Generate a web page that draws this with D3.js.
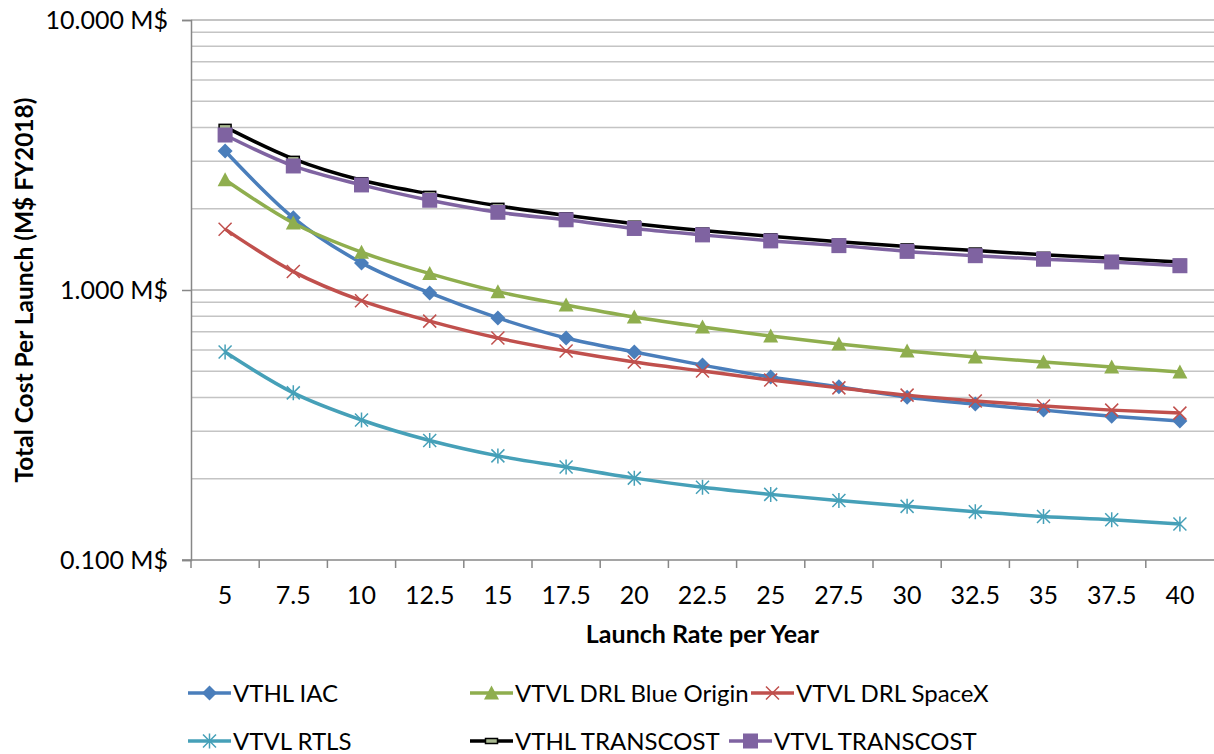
<!DOCTYPE html>
<html>
<head>
<meta charset="utf-8">
<script src="https://cdn.jsdelivr.net/npm/d3@7"></script>
<style>
  body { margin: 0; background: #fff; }
  svg text { font-family: Lato, "Open Sans", sans-serif; fill: #000; }
</style>
</head>
<body>
<div id="chart"></div>
<script>
// launch rates (categories)
const rates = ['5', '7.5', '10', '12.5', '15', '17.5', '20', '22.5', '25', '27.5', '30', '32.5', '35', '37.5', '40'];

// cost per launch, M$ FY2018
const vthlIac = [3.27, 1.85, 1.26, 0.975, 0.788, 0.664, 0.589, 0.527, 0.476, 0.438, 0.401, 0.378, 0.359, 0.341, 0.327];
const vtvlBlueOrigin = [2.56, 1.77, 1.38, 1.15, 0.986, 0.88, 0.794, 0.729, 0.675, 0.631, 0.594, 0.565, 0.541, 0.519, 0.497];
const vtvlSpaceX = [1.68, 1.17, 0.913, 0.767, 0.664, 0.594, 0.541, 0.501, 0.464, 0.434, 0.408, 0.388, 0.372, 0.359, 0.350];
const vtvlRtls = [0.589, 0.416, 0.330, 0.277, 0.243, 0.221, 0.201, 0.186, 0.175, 0.166, 0.158, 0.151, 0.145, 0.141, 0.136];
const vthlTranscost = [4.02, 3.06, 2.55, 2.27, 2.05, 1.89, 1.76, 1.66, 1.58, 1.51, 1.45, 1.40, 1.35, 1.31, 1.27];
const vtvlTranscost = [3.75, 2.88, 2.45, 2.15, 1.94, 1.82, 1.69, 1.60, 1.52, 1.46, 1.39, 1.34, 1.30, 1.27, 1.23];

const yTicks = [0.1, 1, 10];
const yTickLabels = ['0.100 M$', '1.000 M$', '10.000 M$'];

const series = [
  { name: 'VTHL IAC', values: vthlIac, color: '#4A7EBB', marker: 'diamond' },
  { name: 'VTVL DRL Blue Origin', values: vtvlBlueOrigin, color: '#8FAE4E', marker: 'triangle' },
  { name: 'VTVL DRL SpaceX', values: vtvlSpaceX, color: '#C0504D', marker: 'x' },
  { name: 'VTVL RTLS', values: vtvlRtls, color: '#46A0B8', marker: 'star' },
  { name: 'VTHL TRANSCOST', values: vthlTranscost, color: '#000000', marker: 'dash' },
  { name: 'VTVL TRANSCOST', values: vtvlTranscost, color: '#7F63A1', marker: 'square' }
];

// set the dimensions and margins of the graph
const width = 1214, height = 754;
const margin = { top: 20, right: 0, bottom: 194, left: 191 };

const svg = d3.select('#chart')
  .append('svg')
  .attr('width', width)
  .attr('height', height);

const x = d3.scaleBand()
  .domain(rates)
  .range([margin.left, width - margin.right]);

const y = d3.scaleLog()
  .domain([0.1, 10])
  .range([height - margin.bottom, margin.top]);

const cx = r => x(r) + x.bandwidth() / 2;

// gridlines: minor first, then decades
const minor = [];
[0.1, 1].forEach(d => { for (let k = 2; k <= 9; k++) minor.push(d * k); });
svg.append('g')
  .selectAll('line')
  .data(minor)
  .enter()
  .append('line')
  .attr('x1', margin.left).attr('x2', width)
  .attr('y1', d => y(d)).attr('y2', d => y(d))
  .style('stroke', '#c4c4c4')
  .style('stroke-width', 1.5);

svg.append('g')
  .selectAll('line')
  .data([1, 10])
  .enter()
  .append('line')
  .attr('x1', margin.left).attr('x2', width)
  .attr('y1', d => y(d)).attr('y2', d => y(d))
  .style('stroke', '#b0b0b0')
  .style('stroke-width', 1.5);

// Y axis
const yAxis = svg.append('g')
  .attr('transform', 'translate(' + margin.left + ',0)')
  .call(d3.axisLeft(y).tickValues(yTicks).tickSize(9).tickPadding(14)
    .tickFormat((d, i) => yTickLabels[i]));
yAxis.select('.domain').attr('stroke', '#878787').attr('stroke-width', 1.5);
yAxis.selectAll('.tick line').attr('stroke', '#878787').attr('stroke-width', 1.5);
yAxis.selectAll('text').style('font-size', '25px').style('font-family', 'Lato, sans-serif').attr('fill', '#000');

// X axis: ticks at category boundaries
const xAxisG = svg.append('g')
  .attr('transform', 'translate(0,' + y(0.1) + ')');
xAxisG.append('line')
  .attr('x1', margin.left - 9).attr('x2', width)
  .attr('y1', 0).attr('y2', 0)
  .style('stroke', '#878787').style('stroke-width', 1.5);
xAxisG.selectAll('.bt')
  .data(rates)
  .enter()
  .append('line')
  .attr('x1', d => x(d)).attr('x2', d => x(d))
  .attr('y1', 0).attr('y2', 8)
  .style('stroke', '#878787').style('stroke-width', 1.5);
xAxisG.selectAll('text')
  .data(rates)
  .enter()
  .append('text')
  .attr('x', d => cx(d))
  .attr('y', 44)
  .attr('text-anchor', 'middle')
  .style('font-size', '25px')
  .text(d => d);

// axis titles
svg.append('text')
  .attr('transform', 'translate(33,' + ((margin.top + y(0.1)) / 2) + ') rotate(-90)')
  .attr('text-anchor', 'middle')
  .style('font-size', '24.5px')
  .style('font-weight', 'bold')
  .text('Total Cost Per Launch (M$ FY2018)');

svg.append('text')
  .attr('x', (margin.left + width) / 2)
  .attr('y', 643)
  .attr('text-anchor', 'middle')
  .style('font-size', '25px')
  .style('font-weight', 'bold')
  .text('Launch Rate per Year');

// markers
function drawMarker(g, type, color) {
  if (type === 'diamond') {
    g.append('path').attr('d', 'M0,-7.5L7.5,0L0,7.5L-7.5,0Z').style('fill', color);
  } else if (type === 'triangle') {
    g.append('path').attr('d', 'M0,-7.5L7.5,6.5L-7.5,6.5Z').style('fill', color);
  } else if (type === 'square') {
    g.append('rect').attr('x', -7.5).attr('y', -7.5).attr('width', 15).attr('height', 15).style('fill', color);
  } else if (type === 'x') {
    g.append('path').attr('d', 'M-6.5,-6.5L6.5,6.5M-6.5,6.5L6.5,-6.5').style('stroke', color).style('stroke-width', 1.5).style('fill', 'none');
  } else if (type === 'star') {
    g.append('path').attr('d', 'M-6.5,-6.5L6.5,6.5M-6.5,6.5L6.5,-6.5M0,-7.5L0,7.5').style('stroke', color).style('stroke-width', 1.5).style('fill', 'none');
  } else if (type === 'dash') {
    g.append('rect').attr('x', -6).attr('y', -2.5).attr('width', 12).attr('height', 5)
      .style('fill', '#a8b890').style('stroke', color).style('stroke-width', 1.5);
  }
}

const line = d3.line()
  .x((d, i) => cx(rates[i]))
  .y(d => y(d))
  .curve(d3.curveMonotoneX);

series.forEach(s => {
  svg.append('path')
    .datum(s.values)
    .attr('d', line)
    .style('fill', 'none')
    .style('stroke', s.color)
    .style('stroke-width', 3.5);
  const pts = svg.append('g');
  s.values.forEach((v, i) => {
    const g = pts.append('g').attr('transform', 'translate(' + cx(rates[i]) + ',' + y(v) + ')');
    drawMarker(g, s.marker, s.color);
  });
});

// legend
const legendPos = [
  [188, 693], [470, 693], [751, 693],
  [188, 741], [470, 741], [729, 741]
];
series.forEach((s, i) => {
  const [lx, ly] = legendPos[i];
  const g = svg.append('g').attr('transform', 'translate(' + lx + ',' + ly + ')');
  g.append('line').attr('x1', 0).attr('x2', 43).attr('y1', 0).attr('y2', 0)
    .style('stroke', s.color).style('stroke-width', 3.5);
  const m = g.append('g').attr('transform', 'translate(21.5,0)');
  drawMarker(m, s.marker, s.color);
  g.append('text').attr('x', 45).attr('y', 9).style('font-size', '24px').text(s.name);
});
</script>
</body>
</html>
